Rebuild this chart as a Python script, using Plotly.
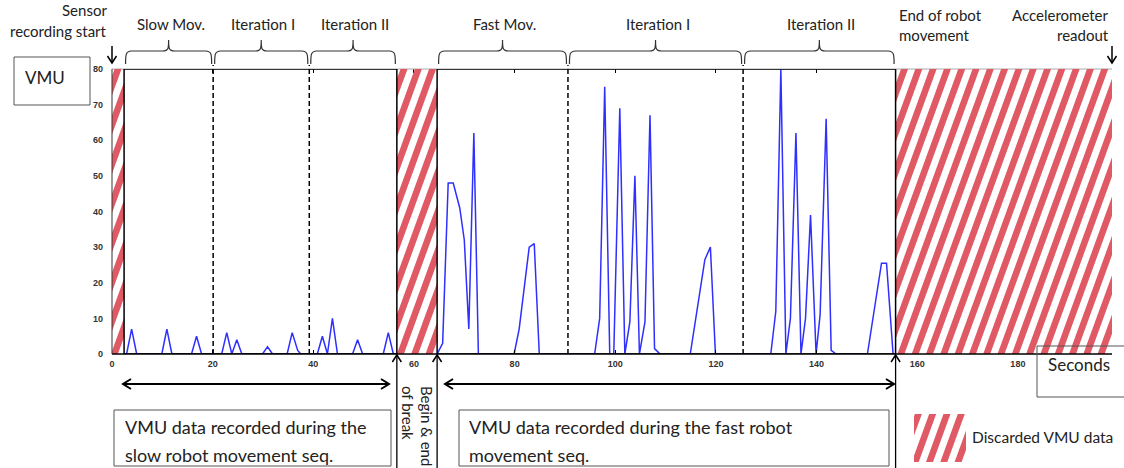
import math
import plotly.graph_objects as go

# ---------------- data ----------------
slow_t = [2.4, 2.9, 3.9, 4.9, 9.9, 10.9, 11.9, 15.8, 16.8, 17.8,
          21.8, 22.8, 23.8, 24.8, 25.8, 29.9, 30.9, 31.9,
          34.8, 35.8, 36.9, 37.5, 40.8, 41.8, 42.8, 43.8, 44.8,
          47.8, 48.8, 49.8, 53.9, 54.9, 55.9, 56.6]
slow_v = [0, 0, 7, 0, 0, 7, 0, 0, 5, 0,
          0, 6, 0, 4, 0, 0, 2, 0,
          0, 6, 1, 0, 0, 5, 0, 10, 0,
          0, 4, 0, 0, 6, 0, 0]

fast_t = [64.6, 65.7, 66.8, 67.8, 69.1, 70.0, 70.9, 71.9, 72.8,
          79.9, 80.9, 82.9, 83.9, 84.9,
          95.9, 96.9, 97.9, 98.9, 99.7, 100.9, 101.9, 102.9, 103.9, 104.8,
          105.9, 106.9, 107.8, 108.9,
          114.9, 117.8, 118.9, 119.9,
          130.9, 131.9, 132.9, 133.9, 134.8, 135.9, 136.9, 137.8, 138.8, 139.9,
          140.7, 141.9, 142.9, 143.9,
          150.1, 152.9, 153.9, 155.2, 155.7]
fast_v = [0, 3, 48, 48, 41, 32, 7, 62, 0,
          0, 7, 30, 31, 0,
          0, 10, 75, 0, 0, 69, 0, 9, 50, 0,
          9, 67, 1.5, 0,
          0, 26.5, 30, 0,
          0, 12, 80, 0, 10, 62, 0, 10, 39, 0,
          11, 66, 1, 0,
          0, 25.5, 25.5, 0, 0]

discard_start = [0, 56.6, 155.7]
discard_end = [2.4, 64.6, 198.7]
segment_start = [2.4, 64.6]
segment_end = [56.6, 155.7]
iteration_marks = [20.1, 39.2, 90.6, 125.4]
brace_labels = ["Slow Mov.", "Iteration I", "Iteration II",
                "Fast Mov.", "Iteration I", "Iteration II"]
x_ticks = [0, 20, 40, 60, 80, 100, 120, 140, 160, 180]
y_ticks = [0, 10, 20, 30, 40, 50, 60, 70, 80]

# ---------------- geometry ----------------
W, H = 1124, 468
ML, MR, MT, MB = 112, 12, 69, 114
PW, PH = W - ML - MR, H - MT - MB
X_MAX, Y_MAX = 198.7, 80
FONT = "Lato"
RED = "#df5a65"
BLUE = "#2f2fff"


def sx(t):
    return ML + t * PW / X_MAX


def sy(v):
    return MT + PH - v * PH / Y_MAX


def pp(px, py):
    return (px - ML) / PW, (MT + PH - py) / PH


def pstr(px, py):
    a, b = pp(px, py)
    return f"{a:.5f},{b:.5f}"


def clip_poly(poly, xmin, xmax, ymin, ymax):
    def clip(poly, inside, inter):
        out = []
        n = len(poly)
        for i in range(n):
            cur, prev = poly[i], poly[i - 1]
            if inside(cur):
                if not inside(prev):
                    out.append(inter(prev, cur))
                out.append(cur)
            elif inside(prev):
                out.append(inter(prev, cur))
        return out

    def ix(a, b, x):
        t = (x - a[0]) / (b[0] - a[0])
        return (x, a[1] + t * (b[1] - a[1]))

    def iy(a, b, y):
        t = (y - a[1]) / (b[1] - a[1])
        return (a[0] + t * (b[0] - a[0]), y)

    edges = [
        (lambda p: p[0] >= xmin, lambda a, b: ix(a, b, xmin)),
        (lambda p: p[0] <= xmax, lambda a, b: ix(a, b, xmax)),
        (lambda p: p[1] >= ymin, lambda a, b: iy(a, b, ymin)),
        (lambda p: p[1] <= ymax, lambda a, b: iy(a, b, ymax)),
    ]
    for inside, inter in edges:
        poly = clip(poly, inside, inter)
        if not poly:
            break
    return poly


PERIOD, HW, ANG = 14.3, 3.5, 70


def hatch_shape(x0, y0, x1, y1):
    run = (y1 - y0) / math.tan(math.radians(ANG))
    parts = []
    c = math.floor((x0 - run - PERIOD) / PERIOD) * PERIOD
    while c < x1 + PERIOD:
        poly = [(c - HW, y1), (c + HW, y1), (c + HW + run, y0), (c - HW + run, y0)]
        cp = clip_poly(poly, x0, x1, y0, y1)
        if len(cp) >= 3:
            parts.append("M" + "L".join(pstr(*p) for p in cp) + "Z")
        c += PERIOD
    return dict(type="path", path="".join(parts), xref="paper", yref="paper",
                fillcolor=RED, line=dict(width=0), layer="above")


def pline(x0, y0, x1, y1, color="black", width=1.5, dash=None):
    a0, b0 = pp(x0, y0)
    a1, b1 = pp(x1, y1)
    ln = dict(color=color, width=width)
    if dash:
        ln["dash"] = dash
    return dict(type="line", x0=a0, y0=b0, x1=a1, y1=b1, xref="paper", yref="paper",
                line=ln, layer="above")


def ppath(pts, color="black", width=1.5):
    path = "M" + "L".join(pstr(*p) for p in pts)
    return dict(type="path", path=path, xref="paper", yref="paper",
                line=dict(color=color, width=width), layer="above")


def prect(x0, y0, x1, y1, color="#555", width=1):
    a0, b0 = pp(x0, y0)
    a1, b1 = pp(x1, y1)
    return dict(type="rect", x0=a0, y0=b1, x1=a1, y1=b0, xref="paper", yref="paper",
                line=dict(color=color, width=width), fillcolor="rgba(0,0,0,0)", layer="above")


def brace(xa, xb, xm, y_end=64, y_h=51, y_tip=40, r=6):
    f = pstr
    path = (f"M{f(xa, y_end)}C{f(xa, y_h + 4)} {f(xa, y_h)} {f(xa + r, y_h)}"
            f"L{f(xm - r, y_h)}C{f(xm, y_h)} {f(xm, y_h - 3)} {f(xm, y_tip)}"
            f"C{f(xm, y_h - 3)} {f(xm, y_h)} {f(xm + r, y_h)}"
            f"L{f(xb - r, y_h)}C{f(xb, y_h)} {f(xb, y_h + 4)} {f(xb, y_end)}")
    return dict(type="path", path=path, xref="paper", yref="paper",
                line=dict(color="#333", width=1.2), layer="above")


def txt(s, px, py, size, xanchor="center", yanchor="middle", angle=0, color="#222"):
    a, b = pp(px, py)
    return dict(text=s, x=a, y=b, xref="paper", yref="paper", showarrow=False,
                xanchor=xanchor, yanchor=yanchor, textangle=angle,
                font=dict(family=FONT, size=size, color=color))


# ---------------- figure ----------------
fig = go.Figure()
fig.add_trace(go.Scatter(x=slow_t, y=slow_v, mode="lines",
                         line=dict(color=BLUE, width=1.5), hoverinfo="skip", showlegend=False))
fig.add_trace(go.Scatter(x=fast_t, y=fast_v, mode="lines",
                         line=dict(color=BLUE, width=1.5), hoverinfo="skip", showlegend=False))
fig.add_trace(go.Scatter(x=[0], y=[0], xaxis="x2", mode="markers",
                         marker=dict(opacity=0), hoverinfo="skip", showlegend=False))

shapes = []
# top thin gray border across the plot
shapes.append(pline(sx(0), sy(Y_MAX), sx(X_MAX), sy(Y_MAX), color="#aaa", width=1))
# discarded (hatched) regions
for s0, s1 in zip(discard_start, discard_end):
    shapes.append(hatch_shape(sx(s0), sy(Y_MAX), sx(s1), sy(0)))
# axis lines
shapes.append(pline(sx(0), sy(0), sx(X_MAX), sy(0), color="black", width=1.5))
shapes.append(pline(sx(0), sy(0), sx(0), sy(Y_MAX), color="#333", width=1))
# recording boxes
for s0, s1 in zip(segment_start, segment_end):
    shapes.append(dict(type="rect", x0=s0, x1=s1, y0=0, y1=Y_MAX, xref="x", yref="y",
                       line=dict(color="black", width=1.5), fillcolor="rgba(0,0,0,0)",
                       layer="above"))
# iteration dividers
for m in iteration_marks:
    shapes.append(pline(sx(m), sy(0), sx(m), sy(Y_MAX) - 4, width=1.5, dash="5px,3px"))

# braces above the plot
bounds = [segment_start[0]] + iteration_marks[:2] + [segment_end[0]]
bounds2 = [segment_start[1]] + iteration_marks[2:] + [segment_end[1]]
spans = []
for bb in (bounds, bounds2):
    for i in range(3):
        spans.append((sx(bb[i]) + 1.5, sx(bb[i + 1]) - 1.5))
for (xa, xb) in spans:
    shapes.append(brace(xa, xb, (xa + xb) / 2))

annotations = []
for (xa, xb), lab in zip(spans, brace_labels):
    annotations.append(txt(lab, (xa + xb) / 2 + 2, 24.5, 15))

# top-corner notes with down arrows
annotations.append(txt("Sensor", 109, 10, 15, xanchor="right"))
annotations.append(txt("recording start", 109, 31, 15, xanchor="right"))
annotations.append(txt("End of robot", 897, 15, 15, xanchor="left"))
annotations.append(txt("movement", 897, 35, 15, xanchor="left"))
annotations.append(txt("Accelerometer", 1111, 15, 15, xanchor="right"))
annotations.append(txt("readout", 1111, 35, 15, xanchor="right"))
for ax_px in (sx(0), sx(X_MAX)):
    shapes.append(pline(ax_px, 46, ax_px, 63, width=1.5))
    shapes.append(ppath([(ax_px - 4.5, 56), (ax_px, 63), (ax_px + 4.5, 56)], width=1.5))

# VMU label box
shapes.append(prect(14, 57, 90, 105, color="#555", width=1))
annotations.append(txt("VMU", 45, 77, 17))

# Seconds label box
shapes.append(prect(1037, 346, 1130, 397, color="#555", width=1))
annotations.append(txt("Seconds", 1079, 365, 17))

# bottom verticals with arrowheads at the axis
for s in (segment_end[0], segment_start[1], segment_end[1]):
    xp = sx(s)
    shapes.append(pline(xp, sy(0) + 1, xp, H, width=1.3))
    shapes.append(ppath([(xp - 4.5, sy(0) + 8), (xp, sy(0) + 1), (xp + 4.5, sy(0) + 8)], width=1.5))

# double-headed span arrows
for xa, xb in ((123, 389), (445, 894)):
    yy = 384
    shapes.append(pline(xa, yy, xb, yy, width=2))
    shapes.append(ppath([(xa + 8, yy - 5), (xa, yy), (xa + 8, yy + 5)], width=2))
    shapes.append(ppath([(xb - 8, yy - 5), (xb, yy), (xb - 8, yy + 5)], width=2))

# rotated "Begin & end of break"
annotations.append(txt("Begin &amp; end", 427, 384, 15, yanchor="top", angle=90))
annotations.append(txt("of break", 408, 384, 15, yanchor="top", angle=90))

# description boxes
shapes.append(prect(114, 410, 391, 466, color="#555", width=1))
annotations.append(txt("VMU data recorded during the", 123, 427, 18, xanchor="left"))
annotations.append(txt("slow robot movement seq.", 123, 455, 18, xanchor="left"))
shapes.append(prect(459, 410, 889, 466, color="#555", width=1))
annotations.append(txt("VMU data recorded during the fast robot", 467, 427, 18, xanchor="left"))
annotations.append(txt("movement seq.", 467, 455, 18, xanchor="left"))

# legend swatch
shapes.append(hatch_shape(914, 414, 966, 462))
annotations.append(txt("Discarded VMU data", 970, 437, 15.5, xanchor="left"))

tickfont = dict(family="Liberation Sans", size=9, color="#333", weight="bold")
fig.update_layout(
    width=W, height=H,
    margin=dict(l=ML, r=MR, t=MT, b=MB, pad=0),
    paper_bgcolor="white", plot_bgcolor="white",
    showlegend=False,
    xaxis=dict(range=[0, X_MAX], tickvals=x_ticks, ticktext=[str(v) for v in x_ticks],
               ticks="inside", ticklen=4, tickwidth=1, tickcolor="black",
               showgrid=False, zeroline=False, showline=False,
               tickfont=tickfont, ticklabelstandoff=3),
    xaxis2=dict(range=[0, X_MAX], overlaying="x", side="top", anchor="y",
                tickvals=x_ticks, ticks="inside", ticklen=4, tickwidth=1, tickcolor="black",
                showticklabels=False, showgrid=False, zeroline=False, showline=False),
    yaxis=dict(range=[0, Y_MAX], tickvals=y_ticks, ticks="",
               showgrid=False, zeroline=False, showline=False,
               tickfont=tickfont, ticklabelstandoff=8),
    shapes=shapes,
    annotations=annotations,
)

fig.write_html("out.html")
